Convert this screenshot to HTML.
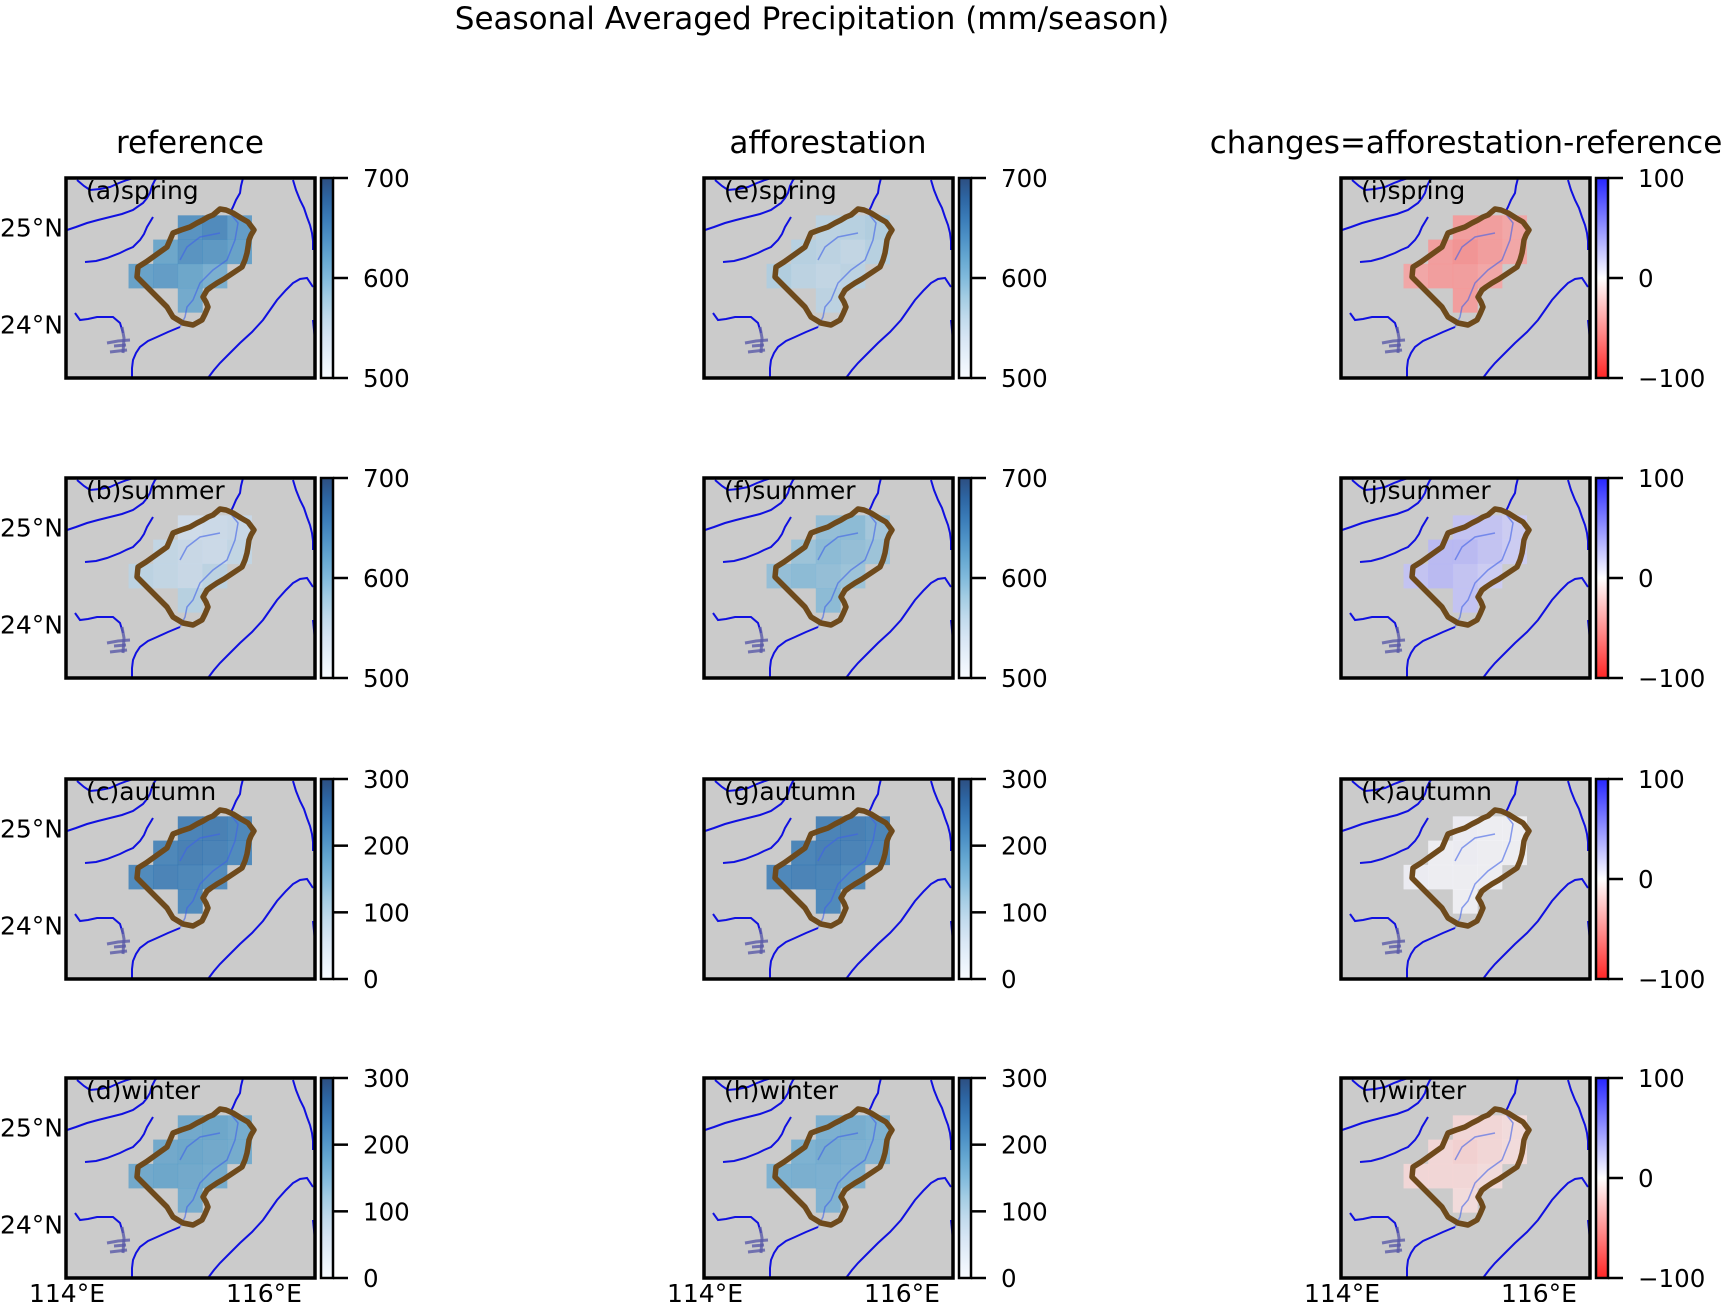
<!DOCTYPE html>
<html><head><meta charset="utf-8">
<style>
html,body{margin:0;padding:0;background:#fff;}
svg{display:block;font-family:"DejaVu Sans","Liberation Sans",sans-serif;}
</style></head>
<body>
<svg id="fig" width="1725" height="1302" viewBox="0 0 1725 1302" xmlns="http://www.w3.org/2000/svg">
<text x="812" y="29" font-size="31" text-anchor="middle">Seasonal Averaged Precipitation (mm/season)</text>
<text x="190" y="153" font-size="31" text-anchor="middle">reference</text>
<text x="828" y="153" font-size="31" text-anchor="middle">afforestation</text>
<text x="1466" y="153" font-size="31" text-anchor="middle">changes=afforestation-reference</text>
<g id="panels"></g>
</svg>
<script>
// grid cells (col index, row index) from lon0/lat0
const cellCols = [2,3,4,1,2,3,4,0,1,2,3,2];
const cellRows = [0,0,0,1,1,1,1,2,2,2,2,3];
const panelLabels = ["(a)spring","(b)summer","(c)autumn","(d)winter","(e)spring","(f)summer","(g)autumn","(h)winter","(i)spring","(j)summer","(k)autumn","(l)winter"];
const refSpring = [640,650,630,620,640,635,625,625,630,620,610,615];
const refSummer = [540,545,550,555,550,545,555,560,555,550,560,565];
const refAutumn = [235,240,230,230,240,235,225,225,235,230,220,225];
const refWinter = [175,180,170,175,180,175,170,175,180,175,170,170];
const affSpring = [560,565,570,565,560,555,565,570,560,555,560,560];
const affSummer = [590,595,580,585,595,590,585,590,595,590,585,595];
const affAutumn = [235,240,232,232,240,236,228,228,236,232,222,226];
const affWinter = [162,168,160,160,168,162,158,160,165,162,158,158];
const chgSpring = [-45,-45,-40,-45,-50,-45,-40,-40,-45,-45,-40,-45];
const chgSummer = [25,25,20,30,30,25,20,25,30,25,20,25];
const chgAutumn = [3,2,2,2,3,2,2,3,2,2,2,2];
const chgWinter = [-15,-15,-12,-15,-18,-15,-12,-15,-15,-15,-12,-12];
const rangeMin = [500,500,0,0];
const rangeMax = [700,700,300,300];
const ticksBlue = [[500,600,700],[500,600,700],[0,100,200,300],[0,100,200,300]];
const ticksChg = [-100,0,100];

const colX=[66,704,1341], rowY=[178,478,779,1078], PW=249, PH=200;
const lonMin=113.99, latMax=25.51, pxLon=98.5, pxLat=97;
const lon0=114.625, lat0=25.125, dd=0.25;
function xScale(lon){return (lon-lonMin)*pxLon;}
function yScale(lat){return (latMax-lat)*pxLat;}
const NS="http://www.w3.org/2000/svg";
function mk(tag,attrs,parent){const e=document.createElementNS(NS,tag);for(const k in attrs)e.setAttribute(k,attrs[k]);if(parent)parent.appendChild(e);return e;}
const blues=[[247,251,255],[222,235,247],[198,219,239],[158,202,225],[107,174,214],[66,146,198],[33,113,181],[8,81,156],[8,48,107]];
function bluesC(t){t=Math.max(0,Math.min(1,t));const p=t*8,i=Math.min(7,Math.floor(p)),f=p-i;const a=blues[i],b=blues[i+1];
 return `rgb(${Math.round(a[0]+(b[0]-a[0])*f)},${Math.round(a[1]+(b[1]-a[1])*f)},${Math.round(a[2]+(b[2]-a[2])*f)})`;}
function bwrC(v){const s=Math.max(-1,Math.min(1,v/100));
 if(s>=0){const c=Math.round(255*(1-s));return `rgb(${c},${c},255)`;}const c=Math.round(255*(1+s));return `rgb(255,${c},${c})`;}

const outline=[[154,31],[160,32],[167,35],[175,40],[182,44],[188,52],[185,57],[183,62],[182,69],[181,75],[179,82],[176,89],[170,93],[164,97],[158,101],[151,105],[145,109],[141,112],[137,119],[140,124],[142,129],[139,136],[136,142],[127,147],[117,145],[107,139],[104,134],[101,129],[96,124],[91,119],[86,114],[81,109],[76,104],[71,99],[72,89],[80,84],[87,79],[94,74],[101,69],[104,62],[107,55],[115,52],[124,49],[131,45],[137,42],[142,39],[147,37]];
const rivers=[
 [[11,2],[18,8],[24,12],[34,11],[44,9],[53,5],[61,2],[67,0]],
 [[1,52],[10,49],[21,45],[32,42],[44,39],[56,36],[67,32],[77,25],[81,20],[84,15],[86,8],[89,2],[91,0]],
 [[19,84],[30,83],[41,80],[54,75],[60,72],[67,69],[74,62],[78,56],[81,49],[84,44],[87,39]],
 [[177,0],[175,8],[174,15],[170,22],[167,29],[164,35]],
 [[114,149],[102,154],[91,159],[82,163],[74,169],[70,175],[67,182],[66,190],[66,199]],
 [[227,2],[230,12],[234,22],[238,30],[241,39],[244,47],[246,55],[247,63],[247,72]],
 [[142,200],[148,192],[154,185],[164,175],[174,165],[186,154],[197,142],[204,132],[211,122],[220,112],[227,105],[234,101],[241,100],[247,109]],
 [[9,135],[14,142],[22,141],[31,139],[40,139],[47,139],[54,145],[57,155]],
 [[247,142],[249,162]]
];
const innerRiv=[[[164,35],[172,45],[169,62],[161,82],[147,92],[134,105],[127,122],[121,129],[119,139],[114,149]],[[114,82],[121,69],[134,59],[154,55]]];
const lake=[[[41,165],[52,163],[64,162]],[[44,174],[61,172]],[[56,149],[58,160],[57,175]],[[48,168],[60,167]]];
function pts(a){return a.map(p=>p.join(',')).join(' ');}

const seriesAll=[[refSpring,refSummer,refAutumn,refWinter],[affSpring,affSummer,affAutumn,affWinter],[chgSpring,chgSummer,chgAutumn,chgWinter]];
const root=document.getElementById('panels');
for(let c=0;c<3;c++){for(let r=0;r<4;r++){
 const ox=colX[c], oy=rowY[r], vals=seriesAll[c][r];
 const g=mk('g',{transform:`translate(${ox},${oy})`},root);
 
 
 const cid='clip'+c+r;
 const cp=mk('clipPath',{id:cid},g); mk('rect',{x:0,y:0,width:PW,height:PH},cp);
 const bg=mk('rect',{x:0,y:0,width:PW,height:PH,fill:'#cbcbcb'},g);
 
 
 const inner=mk('g',{'clip-path':`url(#${cid})`},g);
 for(let i=0;i<vals.length;i++){
  const lonL=lon0+cellCols[i]*dd, latT=lat0-cellRows[i]*dd;
  const x1=xScale(lonL), x2=xScale(lonL+dd), y1=yScale(latT), y2=yScale(latT-dd);
  const col = c<2 ? bluesC((vals[i]-rangeMin[r])/(rangeMax[r]-rangeMin[r])) : bwrC(vals[i]);
  const cell=mk('rect',{x:x1,y:y1,width:x2-x1+0.3,height:y2-y1+0.3,fill:col,'fill-opacity':0.72},inner);
  
  
 }
 for(const rv of rivers){const l=mk('polyline',{points:pts(rv),fill:'none',stroke:'#1010e0','stroke-width':2},inner);
  
  }
 for(const rv of innerRiv){const l=mk('polyline',{points:pts(rv),fill:'none',stroke:'#4060e8','stroke-width':1.5,'stroke-opacity':0.6},inner);
  
  }
 for(const rv of lake){const l=mk('polyline',{points:pts(rv),fill:'none',stroke:'#5a5aa8','stroke-width':3,'stroke-opacity':0.8},inner);
  
  }
 const ol=mk('polygon',{points:pts(outline),fill:'none',stroke:'#6e4a1c','stroke-width':5.5,'stroke-linejoin':'round'},inner);
 
 
 const fr=mk('rect',{x:0,y:0,width:PW,height:PH,fill:'none',stroke:'#000','stroke-width':3.5},g);
 
 
 const lt=mk('text',{x:20,y:21,'font-size':25},g); lt.textContent=panelLabels[c*4+r];
 
 
 if(c===0){
  for(const lat of [25,24]){const t=mk('text',{x:-3,y:yScale(lat)+9,'font-size':25,'text-anchor':'end'},g);t.textContent=lat+'°N';
   
   }
 }
 if(r===3){
  for(const lon of [114,116]){const t=mk('text',{x:xScale(lon),y:PH+24,'font-size':25,'text-anchor':'middle'},g);t.textContent=lon+'°E';
   
   }
 }
 // colorbar
 const cb=mk('g',{transform:`translate(${PW+6},0)`},g);
 
 
 const gid='grad'+c+r;
 const lg=mk('linearGradient',{id:gid,x1:0,y1:1,x2:0,y2:0},cb);
 for(let k=0;k<=10;k++){const t=k/10;
  const col=c<2?bluesC(t):bwrC(-100+200*t);
  mk('stop',{offset:t,'stop-color':col,'stop-opacity':0.85},lg);}
 mk('rect',{x:0,y:0,width:12,height:PH,fill:'#fff'},cb);
 mk('rect',{x:0,y:0,width:12,height:PH,fill:`url(#${gid})`,stroke:'#000','stroke-width':2.5},cb);
 const tks=c<2?ticksBlue[r]:ticksChg, mn=c<2?rangeMin[r]:-100, mx=c<2?rangeMax[r]:100;
 for(const tv of tks){const ty=PH-(tv-mn)/(mx-mn)*PH;
  mk('line',{x1:12,y1:ty,x2:27,y2:ty,stroke:'#000','stroke-width':2.5},cb);
  const t=mk('text',{x:42,y:ty+9,'font-size':24.5},cb);t.textContent=tv<0?'\u2212'+(-tv):String(tv);
  
  }
}}
</script>
</body></html>
